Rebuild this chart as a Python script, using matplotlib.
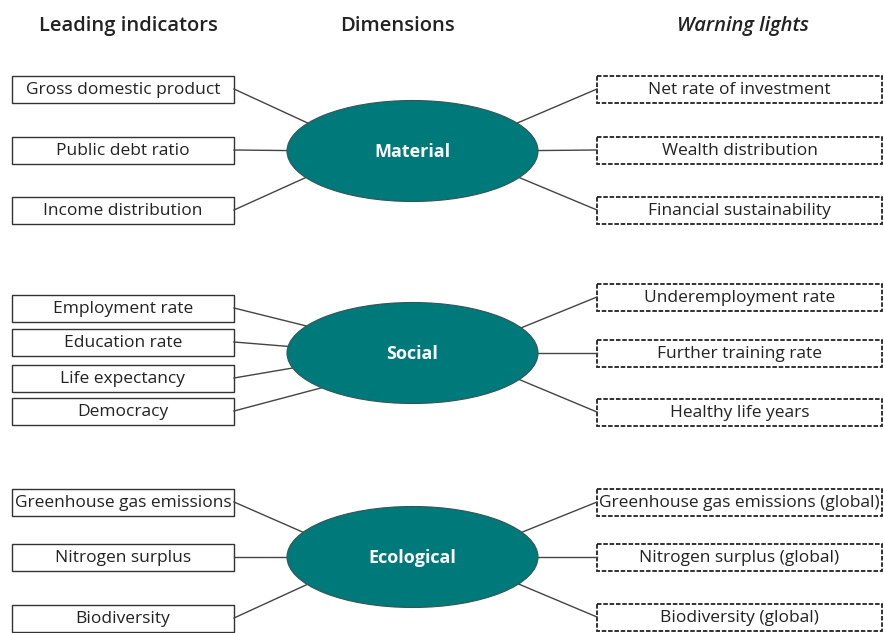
import numpy as np
import matplotlib
matplotlib.use('Agg')
import matplotlib.pyplot as plt
from matplotlib.patches import Ellipse, Rectangle

# Diagram content
headers = ["Leading indicators", "Dimensions", "Warning lights"]
dimensions = ["Material", "Social", "Ecological"]
leading = [
    ["Gross domestic product", "Public debt ratio", "Income distribution"],
    ["Employment rate", "Education rate", "Life expectancy", "Democracy"],
    ["Greenhouse gas emissions", "Nitrogen surplus", "Biodiversity"],
]
warnings = [
    ["Net rate of investment", "Wealth distribution", "Financial sustainability"],
    ["Underemployment rate", "Further training rate", "Healthy life years"],
    ["Greenhouse gas emissions (global)", "Nitrogen surplus (global)", "Biodiversity (global)"],
]
# box centre rows (pixels from top)
leading_y = [[89, 150, 210], [308, 342, 378, 411], [502, 557, 618]]
warning_y = [[89, 150, 210], [297, 353, 412], [502, 557, 617]]
dim_y = [151, 353, 557]

TEAL = "#00797b"
FONT = ["Open Sans", "DejaVu Sans"]

fig = plt.figure(figsize=(8.84, 6.33), dpi=100)
ax = fig.add_axes([0, 0, 1, 1])
ax.set_xlim(0, 884)
ax.set_ylim(633, 0)
ax.axis('off')

cx, ew, eh = 412.5, 251, 101
lx0, lx1 = 12, 234
rx0, rx1 = 597, 882
bh = 27


def ellipse_point(cy, y_target, side, k):
    dy = np.clip(k * (y_target - cy), -eh / 2 * 0.95, eh / 2 * 0.95)
    dx = (ew / 2) * np.sqrt(1 - (dy / (eh / 2)) ** 2)
    return cx + side * dx, cy + dy


hdr = dict(ha='center', va='center', fontsize=14.5, fontweight='semibold',
           family=FONT, color='#222222')
ax.text(128, 26, headers[0], **hdr)
ax.text(397, 26, headers[1], **hdr)
ax.text(743, 26, headers[2], style='italic', **hdr)

for i, dim in enumerate(dimensions):
    cy = dim_y[i]
    k_left = 0.6 if len(leading[i]) > 3 else 0.45
    for lab, y in zip(leading[i], leading_y[i]):
        ax.add_patch(Rectangle((lx0, y - bh / 2), lx1 - lx0, bh, fill=False,
                               edgecolor='#333333', lw=1.0))
        ax.text((lx0 + lx1) / 2, y + 1, lab, ha='center', va='center',
                fontsize=12.5, family=FONT, color='#222222')
        ex, ey = ellipse_point(cy, y, -1, k_left)
        ax.plot([lx1, ex], [y, ey], color='#444444', lw=1.0, zorder=1)
    for lab, y in zip(warnings[i], warning_y[i]):
        ax.add_patch(Rectangle((rx0, y - bh / 2), rx1 - rx0, bh, fill=False,
                               edgecolor='#222222', lw=1.3, linestyle=(0, (2.5, 1))))
        ax.text((rx0 + rx1) / 2, y + 1, lab, ha='center', va='center',
                fontsize=12.5, family=FONT, color='#222222')
        ex, ey = ellipse_point(cy, y, 1, 0.45)
        ax.plot([ex, rx0], [ey, y], color='#444444', lw=1.0, zorder=1)
    ax.add_patch(Ellipse((cx, cy), ew, eh, facecolor=TEAL, edgecolor='#335555',
                         lw=0.8, zorder=2))
    ax.text(cx, cy + 1, dim, ha='center', va='center', fontsize=13,
            fontweight='bold', family=FONT, color='white', zorder=3)

fig.savefig("out.png", dpi=100)
